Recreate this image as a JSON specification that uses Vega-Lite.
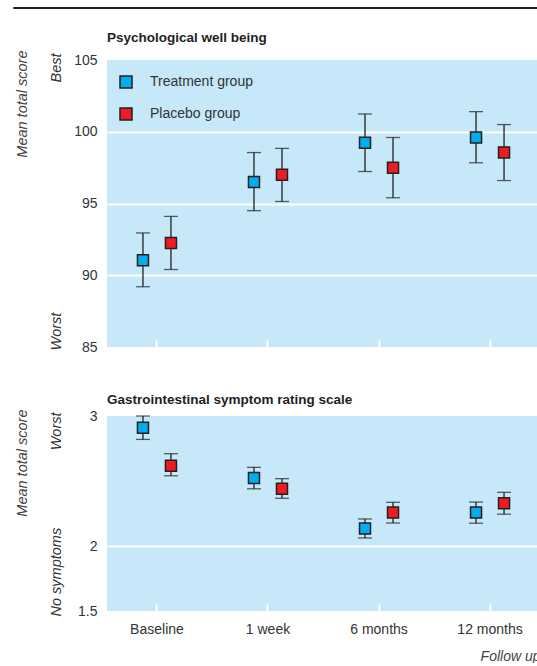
{
  "$schema": "https://vega.github.io/schema/vega-lite/v6.json",
  "padding": {"left": 12, "top": 6, "right": 0, "bottom": 0},
  "background": "white",
  "datasets": {
    "psych": [
      {"time": "Baseline", "group": "Treatment group", "mean": 91.05, "lo": 89.2, "hi": 92.95},
      {"time": "Baseline", "group": "Placebo group", "mean": 92.25, "lo": 90.4, "hi": 94.1},
      {"time": "1 week", "group": "Treatment group", "mean": 96.5, "lo": 94.5, "hi": 98.55},
      {"time": "1 week", "group": "Placebo group", "mean": 97.0, "lo": 95.14, "hi": 98.84},
      {"time": "6 months", "group": "Treatment group", "mean": 99.24, "lo": 97.23, "hi": 101.24},
      {"time": "6 months", "group": "Placebo group", "mean": 97.5, "lo": 95.4, "hi": 99.6},
      {"time": "12 months", "group": "Treatment group", "mean": 99.6, "lo": 97.84, "hi": 101.4},
      {"time": "12 months", "group": "Placebo group", "mean": 98.56, "lo": 96.6, "hi": 100.5}
    ],
    "gi": [
      {"time": "Baseline", "group": "Treatment group", "mean": 2.91, "lo": 2.82, "hi": 3.0},
      {"time": "Baseline", "group": "Placebo group", "mean": 2.617, "lo": 2.54, "hi": 2.71},
      {"time": "1 week", "group": "Treatment group", "mean": 2.523, "lo": 2.44, "hi": 2.605},
      {"time": "1 week", "group": "Placebo group", "mean": 2.441, "lo": 2.367, "hi": 2.518},
      {"time": "6 months", "group": "Treatment group", "mean": 2.134, "lo": 2.062, "hi": 2.208},
      {"time": "6 months", "group": "Placebo group", "mean": 2.257, "lo": 2.177, "hi": 2.336},
      {"time": "12 months", "group": "Treatment group", "mean": 2.257, "lo": 2.175, "hi": 2.338},
      {"time": "12 months", "group": "Placebo group", "mean": 2.329, "lo": 2.245, "hi": 2.413}
    ],
    "blank": [{"a": 1}]
  },
  "align": "none",
  "spacing": 21,
  "resolve": {"scale": {"fill": "independent"}, "legend": {"fill": "independent"}},
  "vconcat": [
    {
      "width": 525,
      "height": 1,
      "view": {"stroke": "#231f20", "strokeWidth": 1, "fill": null},
      "data": {"name": "blank"},
      "mark": {"type": "point", "opacity": 0, "size": 0, "strokeWidth": 0}
    },
    {
      "spacing": 93,
      "bounds": "flush",
      "resolve": {"scale": {"fill": "independent"}, "legend": {"fill": "independent"}},
      "hconcat": [
        {
          "width": 1,
          "height": 1,
          "view": {"stroke": null, "fill": null},
          "data": {"name": "blank"},
          "mark": {"type": "point", "opacity": 0, "size": 0, "strokeWidth": 0}
        },
        {
          "width": 433,
          "height": 287,
          "title": {"text": "Psychological well being", "anchor": "start", "frame": "group", "offset": 6},
          "data": {"name": "psych"},
          "encoding": {
            "x": {
              "field": "time", "type": "nominal",
              "sort": ["Baseline", "1 week", "6 months", "12 months"],
              "scale": {"type": "band", "paddingInner": 0.2, "paddingOuter": 0.05},
              "axis": {"labels": true, "labelOpacity": 0, "labelAngle": 0, "labelPadding": 17, "title": null, "domain": false, "tickSize": -7, "tickColor": "white", "tickWidth": 2}
            },
            "xOffset": {
              "field": "group", "type": "nominal",
              "sort": ["Treatment group", "Placebo group"],
              "scale": {"paddingInner": 0, "paddingOuter": 0.586}
            }
          },
          "layer": [
            {
              "mark": {"type": "rule", "color": "#231f20", "strokeWidth": 1.3},
              "encoding": {
                "y": {
                  "field": "lo", "type": "quantitative",
                  "scale": {"domain": [85, 105], "nice": false, "zero": false},
                  "axis": {
                    "orient": "left", "title": "Mean total score", "values": [85, 105],
                    "labelExpr": "datum.value == 105 ? 'Best' : 'Worst'",
                    "labelAngle": -90,
                    "labelAlign": {"condition": {"test": "datum.value == 105", "value": "right"}, "value": "left"},
                    "labelOffset": {"condition": {"test": "datum.value == 105", "value": -7}, "value": 3},
                    "labelBaseline": "bottom",
                    "labelPadding": 44, "labelFontStyle": "italic", "labelFontSize": 14.5,
                    "ticks": false, "domain": false, "grid": false,
                    "titleAnchor": "end", "titleY": -10, "titlePadding": 19, "titleFontStyle": "italic",
                    "titleFontWeight": "normal", "titleFontSize": 14.5, "titleColor": "#444"
                  }
                },
                "y2": {"field": "hi"}
              }
            },
            {
              "mark": {"type": "tick", "color": "#231f20", "size": 14, "thickness": 1.3, "orient": "horizontal"},
              "encoding": {
                "y": {"field": "lo", "type": "quantitative", "scale": {"domain": [85, 105], "nice": false, "zero": false}, "axis": null}
              }
            },
            {
              "mark": {"type": "tick", "color": "#231f20", "size": 14, "thickness": 1.3, "orient": "horizontal"},
              "encoding": {
                "y": {"field": "hi", "type": "quantitative", "scale": {"domain": [85, 105], "nice": false, "zero": false}, "axis": null}
              }
            },
            {
              "mark": {"type": "point", "shape": "square", "filled": true, "size": 121, "stroke": "#231f20", "strokeWidth": 1.5, "opacity": 1},
              "encoding": {
                "y": {
                  "field": "mean", "type": "quantitative",
                  "scale": {"domain": [85, 105], "nice": false, "zero": false},
                  "axis": {
                    "orient": "left", "title": null, "values": [85, 90, 95, 100, 105],
                    "ticks": false, "domain": false, "labelPadding": 10,
                    "grid": true, "gridColor": "white", "gridWidth": 2,
                    "gridOpacity": {"condition": {"test": "datum.value == 85 || datum.value == 105", "value": 0}, "value": 1}
                  }
                },
                "fill": {
                  "field": "group", "type": "nominal",
                  "scale": {"domain": ["Treatment group", "Placebo group"], "range": ["#00aeef", "#ed1c24"]},
                  "legend": {
                    "orient": "none", "legendX": 12, "legendY": 15, "padding": 0, "title": null,
                    "symbolType": "square", "symbolSize": 144, "symbolStrokeColor": "#231f20",
                    "symbolStrokeWidth": 1.5, "labelFontSize": 14, "labelColor": "#333",
                    "labelOffset": 17, "rowPadding": 14
                  }
                }
              }
            }
          ],
          "resolve": {"scale": {"y": "independent"}, "axis": {"y": "independent"}}
        }
      ]
    },
    {
      "spacing": 93,
      "bounds": "flush",
      "resolve": {"scale": {"fill": "independent"}, "legend": {"fill": "independent"}},
      "hconcat": [
        {
          "width": 1,
          "height": 1,
          "view": {"stroke": null, "fill": null},
          "data": {"name": "blank"},
          "mark": {"type": "point", "opacity": 0, "size": 0, "strokeWidth": 0}
        },
        {
          "width": 433,
          "height": 195,
          "title": {"text": "Gastrointestinal symptom rating scale", "anchor": "start", "frame": "group", "offset": 3},
          "data": {"name": "gi"},
          "encoding": {
            "x": {
              "field": "time", "type": "nominal",
              "sort": ["Baseline", "1 week", "6 months", "12 months"],
              "scale": {"type": "band", "paddingInner": 0.2, "paddingOuter": 0.05},
              "axis": {
                "labelAngle": 0, "title": "Follow up", "titleAnchor": "end", "titleFontStyle": "italic",
                "titleFontWeight": "normal", "titleFontSize": 14, "titleColor": "#444", "titlePadding": 13,
                "domain": false, "tickSize": -7, "tickColor": "white", "tickWidth": 2, "labelPadding": 18
              }
            },
            "xOffset": {
              "field": "group", "type": "nominal",
              "sort": ["Treatment group", "Placebo group"],
              "scale": {"paddingInner": 0, "paddingOuter": 0.586}
            }
          },
          "layer": [
            {
              "mark": {"type": "rule", "color": "#231f20", "strokeWidth": 1.3},
              "encoding": {
                "y": {
                  "field": "lo", "type": "quantitative",
                  "scale": {"domain": [1.5, 3], "nice": false, "zero": false},
                  "axis": {
                    "orient": "left", "title": "Mean total score", "values": [1.5, 3],
                    "labelExpr": "datum.value == 3 ? 'Worst' : 'No symptoms'",
                    "labelAngle": -90,
                    "labelAlign": {"condition": {"test": "datum.value == 3", "value": "right"}, "value": "left"},
                    "labelOffset": {"condition": {"test": "datum.value == 3", "value": -4}, "value": 5},
                    "labelBaseline": "bottom",
                    "labelPadding": 44, "labelFontStyle": "italic", "labelFontSize": 14.5,
                    "ticks": false, "domain": false, "grid": false,
                    "titleAnchor": "end", "titleY": -7, "titlePadding": 19, "titleFontStyle": "italic",
                    "titleFontWeight": "normal", "titleFontSize": 14.5, "titleColor": "#444"
                  }
                },
                "y2": {"field": "hi"}
              }
            },
            {
              "mark": {"type": "tick", "color": "#231f20", "size": 14, "thickness": 1.3, "orient": "horizontal"},
              "encoding": {
                "y": {"field": "lo", "type": "quantitative", "scale": {"domain": [1.5, 3], "nice": false, "zero": false}, "axis": null}
              }
            },
            {
              "mark": {"type": "tick", "color": "#231f20", "size": 14, "thickness": 1.3, "orient": "horizontal"},
              "encoding": {
                "y": {"field": "hi", "type": "quantitative", "scale": {"domain": [1.5, 3], "nice": false, "zero": false}, "axis": null}
              }
            },
            {
              "mark": {"type": "point", "shape": "square", "filled": true, "size": 121, "stroke": "#231f20", "strokeWidth": 1.5, "opacity": 1},
              "encoding": {
                "y": {
                  "field": "mean", "type": "quantitative",
                  "scale": {"domain": [1.5, 3], "nice": false, "zero": false},
                  "axis": {
                    "orient": "left", "title": null, "values": [1.5, 2, 3], "format": "~g",
                    "ticks": false, "domain": false, "labelPadding": 10,
                    "grid": true, "gridColor": "white", "gridWidth": 2,
                    "gridOpacity": {"condition": {"test": "datum.value == 2", "value": 1}, "value": 0}
                  }
                },
                "fill": {
                  "field": "group", "type": "nominal",
                  "scale": {"domain": ["Treatment group", "Placebo group"], "range": ["#00aeef", "#ed1c24"]},
                  "legend": null
                }
              }
            }
          ],
          "resolve": {"scale": {"y": "independent"}, "axis": {"y": "independent"}}
        }
      ]
    }
  ],
  "config": {
    "font": "Liberation Sans",
    "view": {"fill": "#c6e8f8", "stroke": null},
    "axis": {"labelFontSize": 14, "labelColor": "#333", "labelFont": "Liberation Sans", "titleFont": "Liberation Sans"},
    "legend": {"labelFont": "Liberation Sans"},
    "title": {"fontSize": 13.5, "fontWeight": "bold", "color": "#231f20", "font": "Liberation Sans"}
  }
}
